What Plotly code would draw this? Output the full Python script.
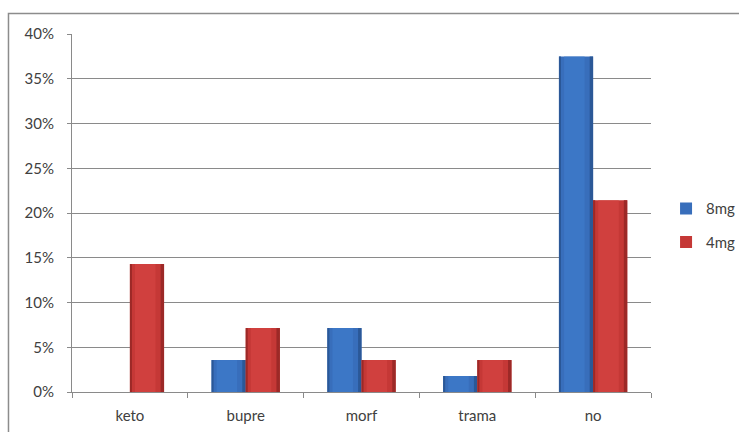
import plotly.graph_objects as go

categories = ["keto", "bupre", "morf", "trama", "no"]
series_names = ["8mg", "4mg"]
values_8mg = [0.0, 0.0357, 0.0714, 0.0179, 0.375]
values_4mg = [0.1429, 0.0714, 0.0357, 0.0357, 0.2143]
y_ticks = [0, 0.05, 0.10, 0.15, 0.20, 0.25, 0.30, 0.35, 0.40]

FONT = "Lato, 'Open Sans', sans-serif"
BAR_W = 0.295

# (edge, body, highlight) shades for a rounded, bevelled look
shades = {
    "8mg": ("#2b5897", "#386ebb", "#3f7acb"),
    "4mg": ("#9c2927", "#c53836", "#d44442"),
}
offsets = {"8mg": -BAR_W, "4mg": 0.0}
data = {"8mg": values_8mg, "4mg": values_4mg}

fig = go.Figure()
for name in series_names:
    edge, body, hi = shades[name]
    off = offsets[name]
    vals = data[name]
    # main body (carries the legend entry)
    fig.add_trace(go.Bar(
        x=categories, y=vals, name=name, width=BAR_W, offset=off,
        marker=dict(color=body, line=dict(width=0)),
        legendgroup=name, hoverinfo="skip",
    ))
    # darker flanks
    fig.add_trace(go.Bar(
        x=categories, y=vals, width=BAR_W * 0.1, offset=off + BAR_W * 0.9,
        marker=dict(color=edge, line=dict(width=0)),
        showlegend=False, legendgroup=name, hoverinfo="skip",
    ))
    fig.add_trace(go.Bar(
        x=categories, y=vals, width=BAR_W * 0.06, offset=off,
        marker=dict(color=edge, line=dict(width=0)),
        showlegend=False, legendgroup=name, hoverinfo="skip",
    ))
    # central highlight
    fig.add_trace(go.Bar(
        x=categories, y=vals, width=BAR_W * 0.6, offset=off + BAR_W * 0.15,
        marker=dict(color=hi, line=dict(width=0), opacity=0.7),
        showlegend=False, legendgroup=name, hoverinfo="skip",
    ))

fig.update_layout(
    width=739, height=432,
    margin=dict(l=72, r=88, t=34, b=40, autoexpand=False),
    paper_bgcolor="white", plot_bgcolor="white",
    barmode="overlay",
    font=dict(family=FONT, size=15, color="#404040"),
    legend=dict(
        x=1.026, y=0.466, xanchor="left", yanchor="middle",
        font=dict(family=FONT, size=15, color="#404040"),
        tracegroupgap=11, traceorder="grouped",
        itemwidth=30, bgcolor="rgba(0,0,0,0)",
    ),
    xaxis=dict(
        type="category", range=[-0.5, 4.5],
        showline=True, linecolor="#8a8a8a", linewidth=1,
        ticks="outside", tickson="boundaries", ticklen=5,
        tickcolor="#8a8a8a", showgrid=False, zeroline=False,
        tickfont=dict(size=15, color="#404040"),
        ticklabelstandoff=10,
    ),
    yaxis=dict(
        range=[0, 0.40], tickvals=y_ticks, tickformat=".0%",
        showline=True, linecolor="#8a8a8a", linewidth=1,
        ticks="outside", ticklen=4, tickcolor="#8a8a8a",
        showgrid=True, gridcolor="#8a8a8a", gridwidth=1,
        zeroline=False, tickfont=dict(size=15, color="#404040"),
        ticklabelstandoff=10,
    ),
    shapes=[dict(
        type="rect", xref="paper", yref="paper",
        x0=-0.1097, x1=1.3, y0=-0.3, y1=1.057,
        line=dict(color="#8c8c8c", width=1.5), fillcolor="rgba(0,0,0,0)",
        layer="below",
    )],
)

fig.write_html("out.html")
